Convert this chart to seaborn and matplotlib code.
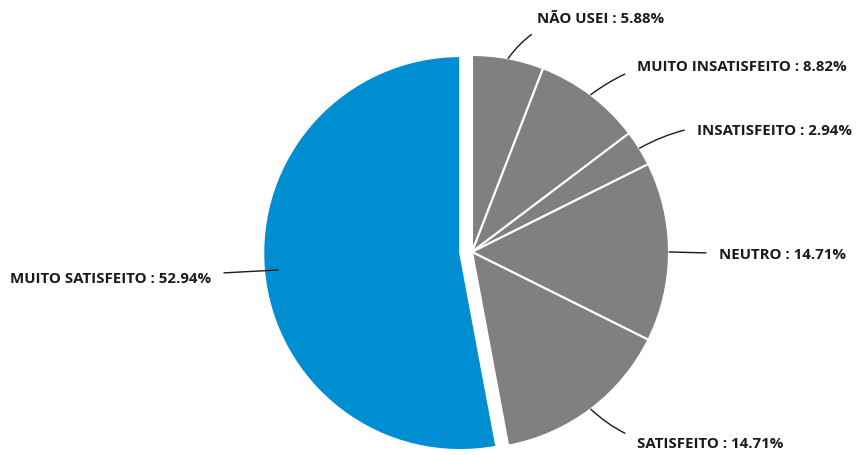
import numpy as np
import matplotlib
matplotlib.use('Agg')
import matplotlib.pyplot as plt
import seaborn as sns

# ── Data ──────────────────────────────────────────────────────────────────────
categories = ['NÃO USEI', 'MUITO INSATISFEITO', 'INSATISFEITO',
              'NEUTRO', 'SATISFEITO', 'MUITO SATISFEITO']
percents = [5.88, 8.82, 2.94, 14.71, 14.71, 52.94]

# ── Style ─────────────────────────────────────────────────────────────────────
sns.set_theme(style='white')
plt.rcParams['font.family'] = ['Open Sans', 'DejaVu Sans']

gray = '#808080'
blue = '#008ED3'
colors = [gray] * 5 + [blue]
explode = [0, 0, 0, 0, 0, 0.06]

W, H = 859, 455
CX, CY, R = 472, 252, 197   # pie centre / radius in pixels


def px(x, y):
    # pixel (top-left origin) -> data units (pie radius = 1)
    return (x - CX) / R, (CY - y) / R


fig = plt.figure(figsize=(W / 100, H / 100), dpi=100)
ax = fig.add_axes([0, 0, 1, 1])

wedges, _ = ax.pie(percents, colors=colors, startangle=90, counterclock=False,
                   explode=explode, radius=1,
                   wedgeprops={'edgecolor': 'white', 'linewidth': 1.5})
ax.set_xlim(-CX / R, (W - CX) / R)
ax.set_ylim(-(H - CY) / R, CY / R)
ax.set_aspect('auto')
ax.axis('off')

# label layout: (pixel x, pixel y, alignment, curvature)
label_pos = [(537, 19, 'left', 0.3),
             (637, 67, 'left', 0.25),
             (697, 131, 'left', 0.2),
             (719, 255, 'left', 0.0),
             (637, 444, 'left', -0.25),
             (211, 279, 'right', 0.0)]

for w, cat, pct, (lx, ly, ha, rad), ex in zip(wedges, categories, percents, label_pos, explode):
    ang = np.deg2rad((w.theta1 + w.theta2) / 2)
    r_anchor = 1 + ex - (0.07 if ex else 0)
    xy = (r_anchor * np.cos(ang), r_anchor * np.sin(ang))
    ax.annotate(f'{cat} : {pct:.2f}%', xy=xy, xytext=px(lx, ly),
                ha=ha, va='center', fontsize=10.8, fontweight='bold', color='#1a1a1a',
                arrowprops=dict(arrowstyle='-', color='#1a1a1a', lw=1.0,
                                shrinkA=7, shrinkB=0,
                                connectionstyle=f'arc3,rad={rad}'))

plt.savefig('out.png', dpi=100)
plt.close()
